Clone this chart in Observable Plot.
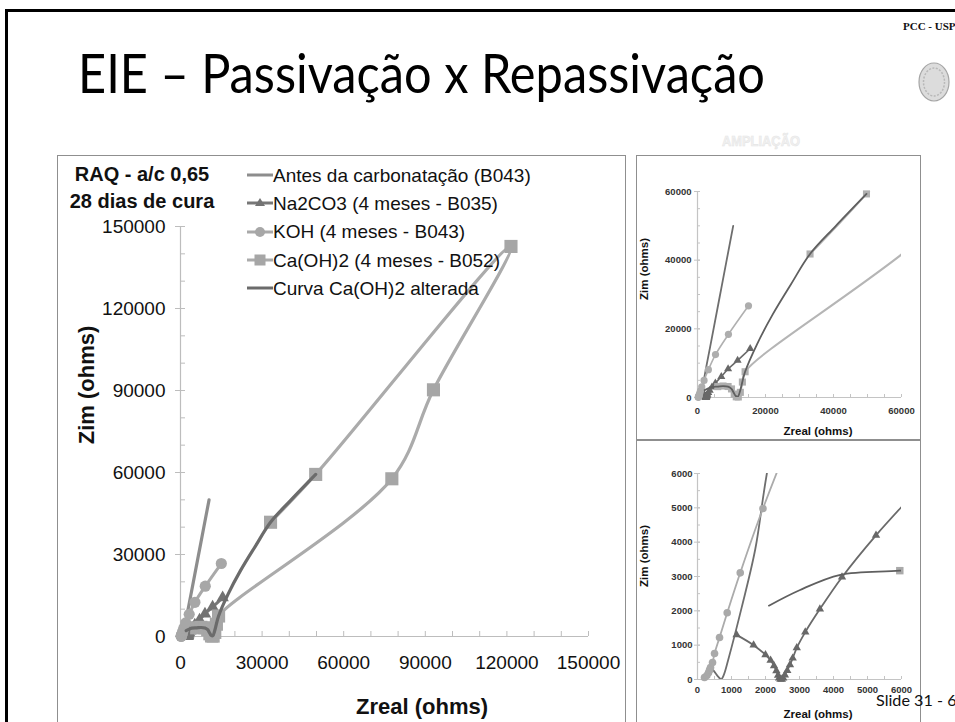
<!DOCTYPE html>
<html><head><meta charset="utf-8">
<script src="https://cdn.jsdelivr.net/npm/d3@7"></script>
<script src="https://cdn.jsdelivr.net/npm/@observablehq/plot@0.6"></script>
<style>
html,body{margin:0;padding:0;background:#fff;}
#slide{position:relative;width:955px;height:722px;overflow:hidden;background:#fff;font-family:Arial,"Liberation Sans",sans-serif;color:#111;}
#slide svg{position:absolute;}
.t{position:absolute;white-space:nowrap;line-height:1;}
</style></head><body><div id="slide"></div>
<script>
// ---------- data ----------
const seriesNames = ["Antes da carbonatação (B043)", "Na2CO3 (4 meses - B035)", "KOH (4 meses - B043)", "Ca(OH)2 (4 meses - B052)", "Curva Ca(OH)2 alterada"];

const antesX = [370, 480, 600, 700, 780, 900, 1300, 1700, 2040, 4000, 7000, 10500];
const antesY = [370, 250, 90, 10, 150, 560, 2100, 3800, 6000, 16200, 31800, 50000];

const naX = [1150, 1650, 2000, 2150, 2250, 2320, 2370, 2400, 2440, 2480, 2520, 2570, 2640, 2720, 2800, 2920, 3170, 3600, 4250, 5250, 7000, 9000, 11800, 15500];
const naY = [1300, 1000, 720, 560, 400, 250, 120, 40, 5, 5, 40, 130, 260, 430, 620, 920, 1380, 2050, 2980, 4200, 6100, 8300, 10800, 14200];

const kohX = [206, 275, 324, 354, 383, 442, 501, 648, 874, 1257, 1925, 3200, 5300, 9100, 15000];
const kohY = [58, 116, 194, 272, 350, 495, 757, 1223, 1942, 3107, 4981, 8100, 12500, 18400, 26700];

const caX = [5950, 7500, 9000, 10000, 10800, 11400, 12000, 12600, 13200, 14000, 77700, 93000, 121500, 49700, 33100];
const caY = [3170, 3350, 3200, 2500, 1000, 200, 150, 1500, 4500, 7500, 57700, 90250, 142700, 59300, 41800];

const altX = [2100, 3000, 4200, 5950, 7500, 9000, 10000, 10700, 11300, 11900, 12600, 14000, 17500, 22000, 27500, 33100, 40500, 49700];
const altY = [2150, 2600, 3050, 3170, 3300, 3150, 2500, 1300, 400, 300, 2200, 7500, 15500, 24000, 33000, 41800, 49800, 59300];

const mainTicks = [0, 30000, 60000, 90000, 120000, 150000];
const topTicks = [0, 20000, 40000, 60000];
const lowTicks = [0, 1000, 2000, 3000, 4000, 5000, 6000];

// ---------- helpers ----------
const slide = document.getElementById("slide");
const pts = (xs, ys) => xs.map((x, i) => ({x, y: ys[i]}));
const S = {antes: pts(antesX, antesY), na: pts(naX, naY), koh: pts(kohX, kohY), ca: pts(caX, caY), alt: pts(altX, altY)};

function chart(o) {
  const inDom = d => d.x >= 0 && d.x <= o.xMax && d.y >= 0 && d.y <= o.yMax;
  const L = (data, st) => Plot.line(data, {x: "x", y: "y", stroke: st.c, strokeWidth: st.sw, curve: "catmull-rom", clip: o.clip});
  const D = (data, st, symbol) => Plot.dot(data.filter(inDom), {x: "x", y: "y", symbol, r: st.r, fill: st.m, stroke: "none"});
  const st = o.st;
  return Plot.plot({
    width: o.width, height: o.height,
    marginLeft: o.mL, marginRight: o.mR, marginTop: o.mT, marginBottom: o.mB,
    x: {domain: [0, o.xMax]}, y: {domain: [0, o.yMax]},
    style: {fontFamily: "Arial, 'Liberation Sans', sans-serif", color: "#111", background: "transparent", overflow: "visible"},
    marks: [
      Plot.ruleX([0], {stroke: o.ax, strokeWidth: 1.2}),
      Plot.ruleY([0], {stroke: o.ax, strokeWidth: 1.2}),
      Plot.axisX({ticks: o.xMinor, tickSize: o.tk, dy: -o.tk, tickFormat: () => "", stroke: o.ax, label: null}),
      Plot.axisY({ticks: o.yMinor, tickSize: o.tk, dx: o.tk, tickFormat: () => "", stroke: o.ax, label: null}),
      Plot.axisY({ticks: o.yTicks, tickSize: o.tk * 2, dx: o.tk, tickFormat: () => "", stroke: o.ax, label: null}),
      Plot.axisX({ticks: o.xTicks, tickSize: 0, tickPadding: o.xPad, fontSize: o.fs, fontWeight: o.fw, fill: o.tc, label: null, tickFormat: d => String(d)}),
      Plot.axisY({ticks: o.yTicks, tickSize: 0, tickPadding: o.yPad, fontSize: o.fs, fontWeight: o.fw, fill: o.tc, label: null, tickFormat: d => String(d)}),
      L(S.antes, st.antes),
      L(S.na, st.na), D(S.na, st.na, "triangle"),
      L(S.koh, st.koh), D(S.koh, st.koh, "circle"),
      L(S.ca, st.ca), D(S.ca, st.ca, "square"),
      L(S.alt, st.alt)
    ]
  });
}

function place(el, x, y) { el.style.left = x + "px"; el.style.top = y + "px"; slide.appendChild(el); }
function txt(str, cx, cy, css, rot) {
  const d = document.createElement("div");
  d.className = "t";
  d.textContent = str;
  d.style.cssText += `left:${cx}px;top:${cy}px;transform:translate(-50%,-50%)${rot ? " rotate(-90deg)" : ""};` + css;
  slide.appendChild(d);
}
function box(x, y, w, h, css) {
  const d = document.createElement("div");
  d.style.cssText = `position:absolute;left:${x}px;top:${y}px;width:${w}px;height:${h}px;box-sizing:border-box;` + css;
  slide.appendChild(d);
}

// ---------- slide frame & boxes ----------
box(5, 9, 1200, 1200, "border:3px solid #000;");
box(57, 155, 569, 700, "border:1.5px solid #8f8f8f;");
box(636, 155, 285, 700, "border:1.5px solid #8f8f8f;");
box(636, 439, 285, 1.5, "background:#8f8f8f;");

// ---------- main chart ----------
const mainStyle = {
  antes: {c: "#8d8d8d", sw: 3.2},
  na: {c: "#777", sw: 3, m: "#737373", r: 4.6},
  koh: {c: "#a9a9a9", sw: 3, m: "#a7a7a7", r: 5.6},
  ca: {c: "#ababab", sw: 3.2, m: "#a6a6a6", r: 7.4},
  alt: {c: "#6b6b6b", sw: 3.2}
};
place(chart({width: 567, height: 566, mL: 122, mR: 37, mT: 70, mB: 86, xMax: 150000, yMax: 150000,
  xTicks: mainTicks, yTicks: mainTicks, xMinor: d3.range(0, 150001, 10000), yMinor: d3.range(0, 150001, 10000),
  tk: 5, xPad: 19, yPad: 15, fs: 19, fw: "normal", tc: "#111", ax: "#bdbdbd", clip: false, st: mainStyle}), 58, 156);

// ---------- top inset ----------
const topStyle = {
  antes: {c: "#6e6e6e", sw: 1.8},
  na: {c: "#6a6a6a", sw: 1.6, m: "#686868", r: 3},
  koh: {c: "#b0b0b0", sw: 1.6, m: "#adadad", r: 3.6},
  ca: {c: "#b5b5b5", sw: 2, m: "#afafaf", r: 4},
  alt: {c: "#5f5f5f", sw: 1.8}
};
place(chart({width: 283, height: 284, mL: 60, mR: 19, mT: 35, mB: 43, xMax: 60000, yMax: 60000,
  xTicks: topTicks, yTicks: topTicks, xMinor: d3.range(0, 60001, 5000), yMinor: d3.range(0, 60001, 5000),
  tk: 3, xPad: 10, yPad: 6, fs: 9.5, fw: "bold", tc: "#333", ax: "#c4c4c4", clip: true, st: topStyle}), 637, 156);

// ---------- lower inset ----------
const lowStyle = {
  antes: {c: "#6e6e6e", sw: 1.8},
  na: {c: "#6a6a6a", sw: 1.8, m: "#686868", r: 3.1},
  koh: {c: "#ababab", sw: 1.8, m: "#a9a9a9", r: 3.8},
  ca: {c: "#b5b5b5", sw: 2, m: "#aaaaaa", r: 4.2},
  alt: {c: "#5f5f5f", sw: 1.8}
};
place(chart({width: 283, height: 282, mL: 60, mR: 19, mT: 33, mB: 43, xMax: 6000, yMax: 6000,
  xTicks: lowTicks, yTicks: lowTicks, xMinor: d3.range(0, 6001, 500), yMinor: d3.range(0, 6001, 500),
  tk: 3, xPad: 7, yPad: 5, fs: 9.5, fw: "bold", tc: "#333", ax: "#c4c4c4", clip: true, st: lowStyle}), 637, 440);

// ---------- axis titles & notes ----------
txt("Zim (ohms)", 87, 385, "font-weight:bold;font-size:22px;", true);
txt("Zreal (ohms)", 422, 707, "font-weight:bold;font-size:22px;");
txt("RAQ - a/c 0,65", 142, 174, "font-weight:bold;font-size:20px;");
txt("28 dias de cura", 142, 201, "font-weight:bold;font-size:20px;");
txt("Zim (ohms)", 645, 269, "font-weight:bold;font-size:11.5px;", true);
txt("Zreal (ohms)", 818, 432, "font-weight:bold;font-size:11.5px;");
txt("Zim (ohms)", 645, 556, "font-weight:bold;font-size:11.5px;", true);
txt("Zreal (ohms)", 818, 715, "font-weight:bold;font-size:11.5px;");

// ---------- legend ----------
const legendRows = [
  {c: "#8d8d8d", m: null},
  {c: "#777", m: "triangle", mc: "#737373"},
  {c: "#a9a9a9", m: "circle", mc: "#a7a7a7"},
  {c: "#ababab", m: "square", mc: "#a6a6a6"},
  {c: "#6b6b6b", m: null}
];
const legY = [175, 203.3, 231.7, 260, 288.3];
seriesNames.forEach((name, i) => {
  const r = legendRows[i];
  const d = document.createElement("div");
  d.className = "t";
  d.style.cssText += `left:247px;top:${legY[i] - 11}px;height:22px;display:flex;align-items:center;font-size:19px;`;
  let mk = "";
  if (r.m === "triangle") mk = `<path d="M13,6 L18,14 L8,14 Z" fill="${r.mc}"/>`;
  if (r.m === "circle") mk = `<circle cx="13" cy="11" r="5" fill="${r.mc}"/>`;
  if (r.m === "square") mk = `<rect x="7.5" y="5.5" width="11" height="11" fill="${r.mc}"/>`;
  d.innerHTML = `<svg width="26" height="22" style="position:static;display:block"><line x1="0" y1="11" x2="26" y2="11" stroke="${r.c}" stroke-width="3"/>${mk}</svg><span>${name}</span>`;
  slide.appendChild(d);
});

// ---------- decorations ----------
const deco = document.createElementNS("http://www.w3.org/2000/svg", "svg");
deco.setAttribute("width", 955); deco.setAttribute("height", 722);
deco.style.cssText = "left:0;top:0;pointer-events:none;";
deco.innerHTML = `
  <text x="78" y="93" textLength="687" lengthAdjust="spacingAndGlyphs" font-family="Lato, 'Open Sans', sans-serif" font-weight="400" font-size="55" fill="#000">EIE – Passivação x Repassivação</text>
  <text x="903" y="30" font-family="'Liberation Serif', 'DejaVu Serif', serif" font-weight="bold" font-size="11" fill="#111">PCC - USP</text>
  <ellipse cx="934" cy="82" rx="15" ry="19" fill="#dcdcdc" stroke="#a5a5a5" stroke-width="1.2"/>
  <ellipse cx="934" cy="82" rx="10.5" ry="14" fill="none" stroke="#b8b8b8" stroke-width="1.5" stroke-dasharray="2 1.5"/>
  <text x="722" y="146" textLength="78" lengthAdjust="spacingAndGlyphs" font-family="Arial, 'Liberation Sans', sans-serif" font-weight="bold" font-size="15" fill="#f1f1f1" stroke="#e6e6e6" stroke-width="0.6">AMPLIAÇÃO</text>
  <text x="876" y="706" textLength="90" lengthAdjust="spacingAndGlyphs" font-family="Lato, 'Open Sans', sans-serif" font-size="16" fill="#111">Slide 31 - 64</text>
`;
slide.appendChild(deco);
</script></body></html>
